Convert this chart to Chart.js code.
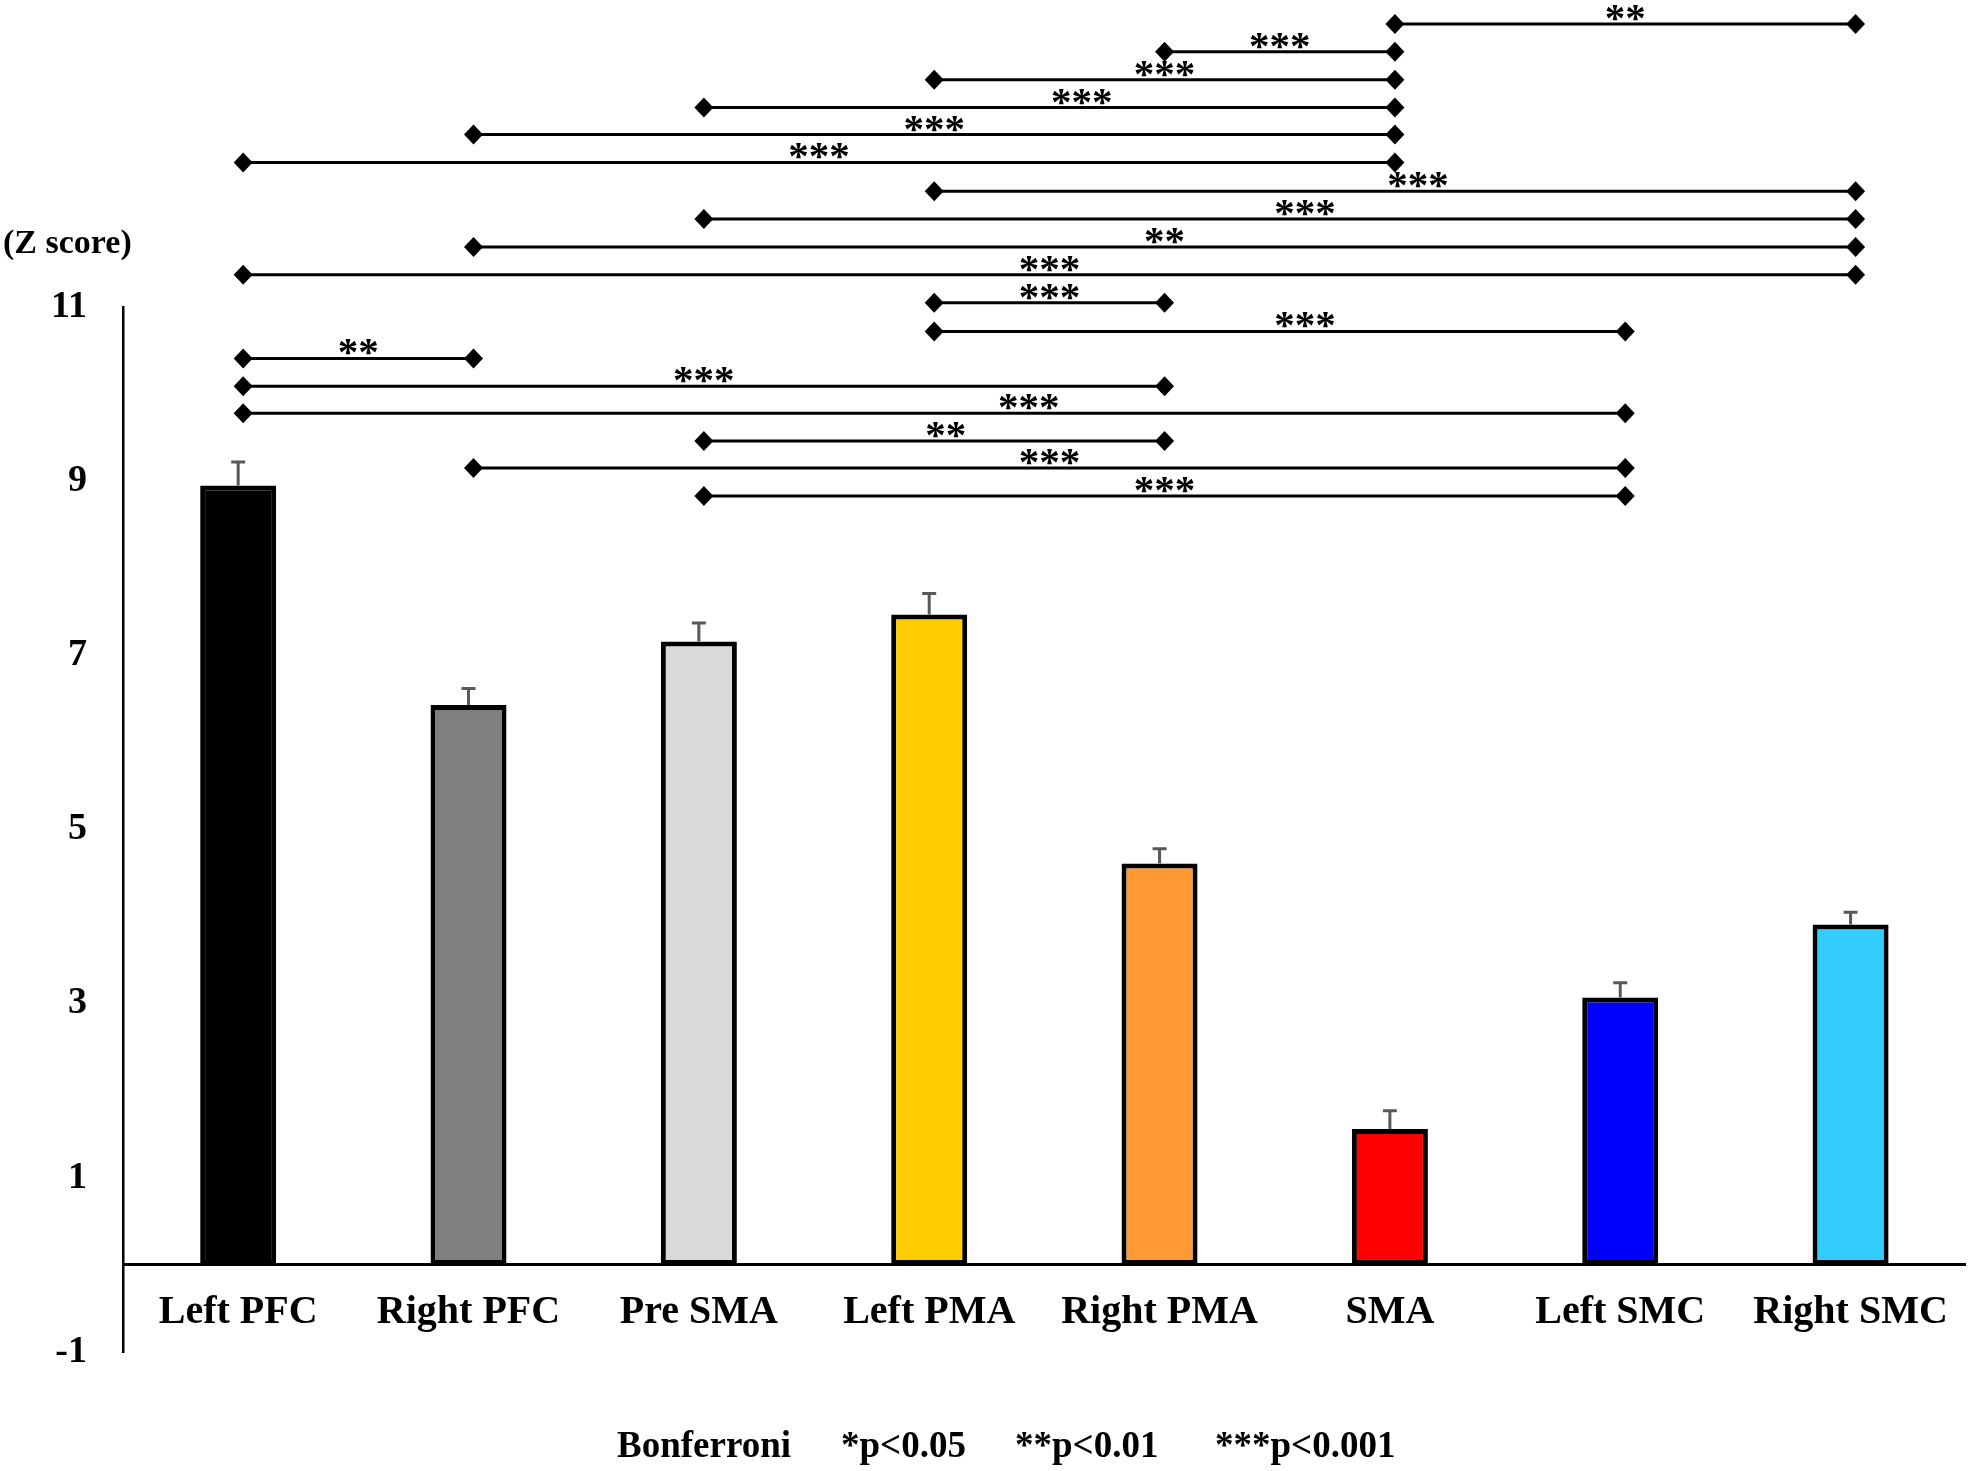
<!DOCTYPE html>
<html>
<head>
<meta charset="utf-8">
<script src="https://cdn.jsdelivr.net/npm/chart.js@4.4.1/dist/chart.umd.min.js"></script>
<style>
  html, body { margin: 0; padding: 0; background: #fff; }
  #wrap { width: 1972px; height: 1471px; }
</style>
</head>
<body>
<div id="wrap"><canvas id="chart" width="1972" height="1471"></canvas></div>
<script>
const regions = ['Left PFC', 'Right PFC', 'Pre SMA', 'Left PMA', 'Right PMA', 'SMA', 'Left SMC', 'Right SMC'];
const zScores = [8.95, 6.43, 7.16, 7.47, 4.61, 1.56, 3.07, 3.91];
const zErrors = [0.27, 0.19, 0.21, 0.24, 0.17, 0.21, 0.17, 0.14];
const barColors = ['#000000', '#7f7f7f', '#d9d9d9', '#ffcc00', '#ff9933', '#ff0000', '#0000ff', '#33ccff'];
const yTicks = [-1, 1, 3, 5, 7, 9, 11];

// significance brackets, top row first: region index pairs, stars, height (z units)
const pairFrom  = [5, 4, 3, 2, 1, 0, 3, 2, 1, 0, 3, 3, 0, 0, 0, 2, 1, 2];
const pairTo    = [7, 5, 5, 5, 5, 5, 7, 7, 7, 7, 4, 6, 1, 4, 6, 4, 6, 6];
const pairStars = ['**', '***', '***', '***', '***', '***', '***', '***', '**', '***',
                   '***', '***', '**', '***', '***', '**', '***', '***'];
const pairLevel = [14.25, 13.93, 13.61, 13.29, 12.98, 12.66, 12.33, 12.01, 11.69, 11.37,
                   11.05, 10.72, 10.41, 10.09, 9.78, 9.46, 9.15, 8.83];
// where the stars sit along each bracket (category units)
const starAt    = [6.0, 4.5, 4.0, 3.64, 3.0, 2.5, 5.1, 4.61, 4.0, 3.5,
                   3.5, 4.61, 0.5, 2.0, 3.41, 3.05, 3.5, 4.0];

const footnote = ['Bonferroni', '*p<0.05', '**p<0.01', '***p<0.001'];

const serif = '"Liberation Serif", "Times New Roman", serif';

const annotate = {
  id: 'annotate',
  afterDatasetsDraw(chart) {
    const { ctx, scales: { x, y } } = chart;
    const meta = chart.getDatasetMeta(0);
    ctx.save();

    // error bars (upper only)
    ctx.strokeStyle = '#595959';
    ctx.lineWidth = 3;
    meta.data.forEach((bar, i) => {
      const top = y.getPixelForValue(zScores[i] + zErrors[i]);
      ctx.beginPath();
      ctx.moveTo(bar.x, bar.y);
      ctx.lineTo(bar.x, top);
      ctx.moveTo(bar.x - 7, top);
      ctx.lineTo(bar.x + 7, top);
      ctx.stroke();
    });

    // brackets
    const shift = 5;
    ctx.strokeStyle = '#000';
    ctx.fillStyle = '#000';
    ctx.lineWidth = 3;
    ctx.font = 'bold 41px ' + serif;
    ctx.textAlign = 'center';
    ctx.textBaseline = 'alphabetic';
    const diamond = (cx, cy) => {
      ctx.beginPath();
      ctx.moveTo(cx, cy - 10);
      ctx.lineTo(cx + 9.5, cy);
      ctx.lineTo(cx, cy + 10);
      ctx.lineTo(cx - 9.5, cy);
      ctx.closePath();
      ctx.fill();
    };
    pairFrom.forEach((a, k) => {
      const x1 = x.getPixelForValue(a) + shift;
      const x2 = x.getPixelForValue(pairTo[k]) + shift;
      const py = y.getPixelForValue(pairLevel[k]);
      ctx.beginPath();
      ctx.moveTo(x1, py);
      ctx.lineTo(x2, py);
      ctx.stroke();
      diamond(x1, py);
      diamond(x2, py);
      ctx.fillText(pairStars[k], x.getPixelForValue(starAt[k]) + shift, py + 7);
    });

    // axis title
    ctx.textAlign = 'left';
    ctx.font = 'bold 34px ' + serif;
    ctx.fillText('(Z score)', 3, 253);

    // footnote
    ctx.font = 'bold 37px ' + serif;
    const noteX = [617, 841, 1015, 1215];
    footnote.forEach((t, i) => ctx.fillText(t, noteX[i], 1457));

    ctx.restore();
  }
};

new Chart(document.getElementById('chart'), {
  type: 'bar',
  data: {
    labels: regions,
    datasets: [{
      data: zScores,
      backgroundColor: barColors,
      borderColor: '#000',
      borderWidth: 5,
      borderSkipped: false,
      barPercentage: 0.33,
      categoryPercentage: 1
    }]
  },
  options: {
    responsive: false,
    animation: false,
    devicePixelRatio: 1,
    layout: { padding: { top: 307, bottom: 119, left: 0, right: 3 } },
    plugins: { legend: { display: false }, tooltip: { enabled: false } },
    scales: {
      x: {
        position: { y: 0 },
        grid: { display: false, drawTicks: false },
        border: { display: true, color: '#000', width: 3 },
        ticks: {
          color: '#000',
          font: { family: serif, size: 40, weight: 'bold' },
          padding: 24,
          maxRotation: 0,
          autoSkip: false
        }
      },
      y: {
        min: -1,
        max: 11,
        afterBuildTicks: s => { s.ticks = yTicks.map(v => ({ value: v })); },
        afterFit: s => { s.width = 123; },
        grid: { display: false, drawTicks: false },
        border: { display: true, color: '#000', width: 2.5 },
        ticks: {
          color: '#000',
          font: { family: serif, size: 38, weight: 'bold' },
          padding: 36
        }
      }
    }
  },
  plugins: [annotate]
});
</script>
</body>
</html>
